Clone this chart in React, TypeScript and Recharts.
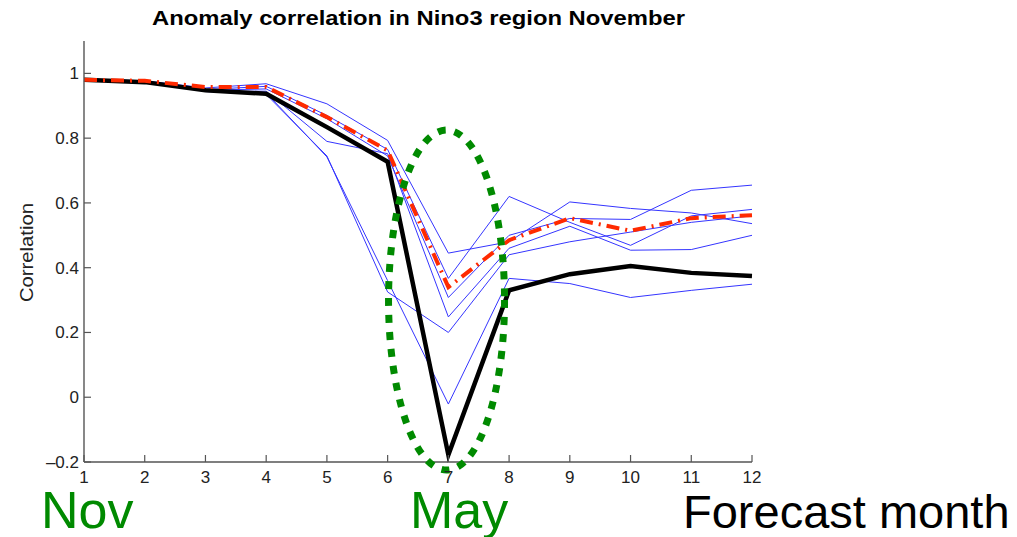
import { LineChart, Line, XAxis, YAxis, ReferenceDot } from "recharts"

const months = [1, 2, 3, 4, 5, 6, 7, 8, 9, 10, 11, 12]
const yTicks = [-0.2, 0, 0.2, 0.4, 0.6, 0.8, 1]

// thick black: the single model, red dash-dot: ensemble mean
const singleModel = [0.98, 0.973, 0.948, 0.937, 0.834, 0.727, -0.178, 0.33, 0.38, 0.405, 0.384, 0.374]
const ensembleMean = [0.98, 0.977, 0.958, 0.958, 0.865, 0.762, 0.34, 0.485, 0.553, 0.514, 0.553, 0.562]

// thin blue members
const member1 = [0.982, 0.977, 0.955, 0.968, 0.906, 0.793, 0.445, 0.48, 0.603, 0.583, 0.569, 0.536]
const member2 = [0.98, 0.975, 0.95, 0.96, 0.87, 0.765, 0.367, 0.62, 0.54, 0.469, 0.56, 0.58]
const member3 = [0.98, 0.976, 0.948, 0.952, 0.86, 0.745, 0.308, 0.5, 0.552, 0.549, 0.639, 0.655]
const member4 = [0.978, 0.974, 0.945, 0.945, 0.79, 0.752, 0.248, 0.46, 0.528, 0.454, 0.456, 0.5]
const member5 = [0.98, 0.975, 0.944, 0.935, 0.745, 0.325, 0.2, 0.44, 0.48, 0.51, 0.54, 0.56]
const member6 = [0.979, 0.973, 0.947, 0.94, 0.742, 0.36, -0.021, 0.367, 0.351, 0.308, 0.33, 0.349]

const members = [member1, member2, member3, member4, member5, member6]

const data = months.map((m, i) => {
  const row: Record<string, number> = { month: m, single: singleModel[i], mean: ensembleMean[i] }
  members.forEach((s, k) => {
    row["m" + (k + 1)] = s[i]
  })
  return row
})

const AXIS = "#555"
const FONT = "'Liberation Sans', Arial, Helvetica, sans-serif"
const TICK_LEN = 7

const fmt = (v: number) => (v < 0 ? "\u2013" + Math.abs(v) : String(v))

function BottomTick({ x, y, payload }: any) {
  return (
    <g>
      <line x1={x} y1={y} x2={x} y2={y - TICK_LEN} stroke={AXIS} strokeWidth={1.2} />
      <text x={x} y={y + 21} textAnchor="middle" fontSize={17} fontFamily={FONT} fill="#222">
        {payload.value}
      </text>
    </g>
  )
}

function LeftTick({ x, y, payload }: any) {
  return (
    <g>
      <line x1={x} y1={y} x2={x + TICK_LEN} y2={y} stroke={AXIS} strokeWidth={1.2} />
      <text x={x - 5} y={y + 6} textAnchor="end" fontSize={17} fontFamily={FONT} fill="#222">
        {fmt(payload.value)}
      </text>
    </g>
  )
}

function TopTick({ x, y }: any) {
  return <line x1={x} y1={y} x2={x} y2={y + TICK_LEN} stroke={AXIS} strokeWidth={1.2} />
}

function RightTick({ x, y }: any) {
  return <line x1={x} y1={y} x2={x - TICK_LEN} y2={y} stroke={AXIS} strokeWidth={1.2} />
}

function Ellipse({ cx, cy }: any) {
  return (
    <ellipse
      cx={cx}
      cy={cy}
      rx={58}
      ry={170}
      fill="none"
      stroke="#008a00"
      strokeWidth={7}
      strokeDasharray="8 9"
    />
  )
}

export default function App() {
  return (
    <div style={{ position: "absolute", left: 0, top: 0, width: 1017, height: 537, background: "#fff" }}>
      <LineChart width={1017} height={537} data={data} margin={{ top: 41, right: 265, bottom: 45, left: 24 }}>
        <XAxis
          dataKey="month"
          type="number"
          domain={[1, 12]}
          ticks={months}
          height={30}
          stroke={AXIS}
          strokeWidth={1.4}
          tickLine={false}
          tickSize={0}
          tickMargin={0}
          tick={<BottomTick />}
        />
        <XAxis
          xAxisId="top"
          orientation="top"
          type="number"
          domain={[1, 12]}
          ticks={months}
          height={0}
          stroke={AXIS}
          strokeWidth={1.4}
          tickLine={false}
          tickSize={0}
          tickMargin={0}
          tick={<TopTick />}
        />
        <YAxis
          type="number"
          domain={[-0.2, 1.1]}
          ticks={yTicks}
          width={60}
          stroke={AXIS}
          strokeWidth={1.4}
          tickLine={false}
          tickSize={0}
          tickMargin={0}
          tick={<LeftTick />}
        />
        <YAxis
          yAxisId="right"
          orientation="right"
          type="number"
          domain={[-0.2, 1.1]}
          ticks={yTicks}
          width={0}
          stroke={AXIS}
          strokeWidth={1.4}
          tickLine={false}
          tickSize={0}
          tickMargin={0}
          tick={<RightTick />}
        />
        {members.map((_, k) => (
          <Line
            key={k}
            dataKey={"m" + (k + 1)}
            stroke="#3535ff"
            strokeWidth={1}
            dot={false}
            isAnimationActive={false}
          />
        ))}
        <Line dataKey="single" stroke="#000" strokeWidth={4.5} dot={false} isAnimationActive={false} />
        <Line
          dataKey="mean"
          stroke="#ff2a00"
          strokeWidth={4}
          strokeDasharray="13 6 2 6"
          dot={false}
          isAnimationActive={false}
        />
        <ReferenceDot x={6.97} y={0.3} r={10} ifOverflow="visible" shape={<Ellipse />} />
      </LineChart>
      <svg width={1017} height={537} style={{ position: "absolute", left: 0, top: 0, pointerEvents: "none" }}>
        <text
          x={152}
          y={25}
          fontSize={21}
          fontWeight="bold"
          fontFamily={FONT}
          fill="#000"
          textLength={533}
          lengthAdjust="spacingAndGlyphs"
        >
          Anomaly correlation in Nino3 region November
        </text>
        <text
          x={0}
          y={0}
          transform="translate(33 302) rotate(-90)"
          fontSize={19}
          fontFamily={FONT}
          fill="#222"
          textLength={99}
          lengthAdjust="spacingAndGlyphs"
        >
          Correlation
        </text>
        <text x={41} y={528} fontSize={52} fontFamily={FONT} fill="#008a00">
          Nov
        </text>
        <text x={410} y={528} fontSize={52} fontFamily={FONT} fill="#008a00">
          May
        </text>
        <text x={683} y={528} fontSize={47} fontFamily={FONT} fill="#000">
          Forecast month
        </text>
      </svg>
    </div>
  )
}
